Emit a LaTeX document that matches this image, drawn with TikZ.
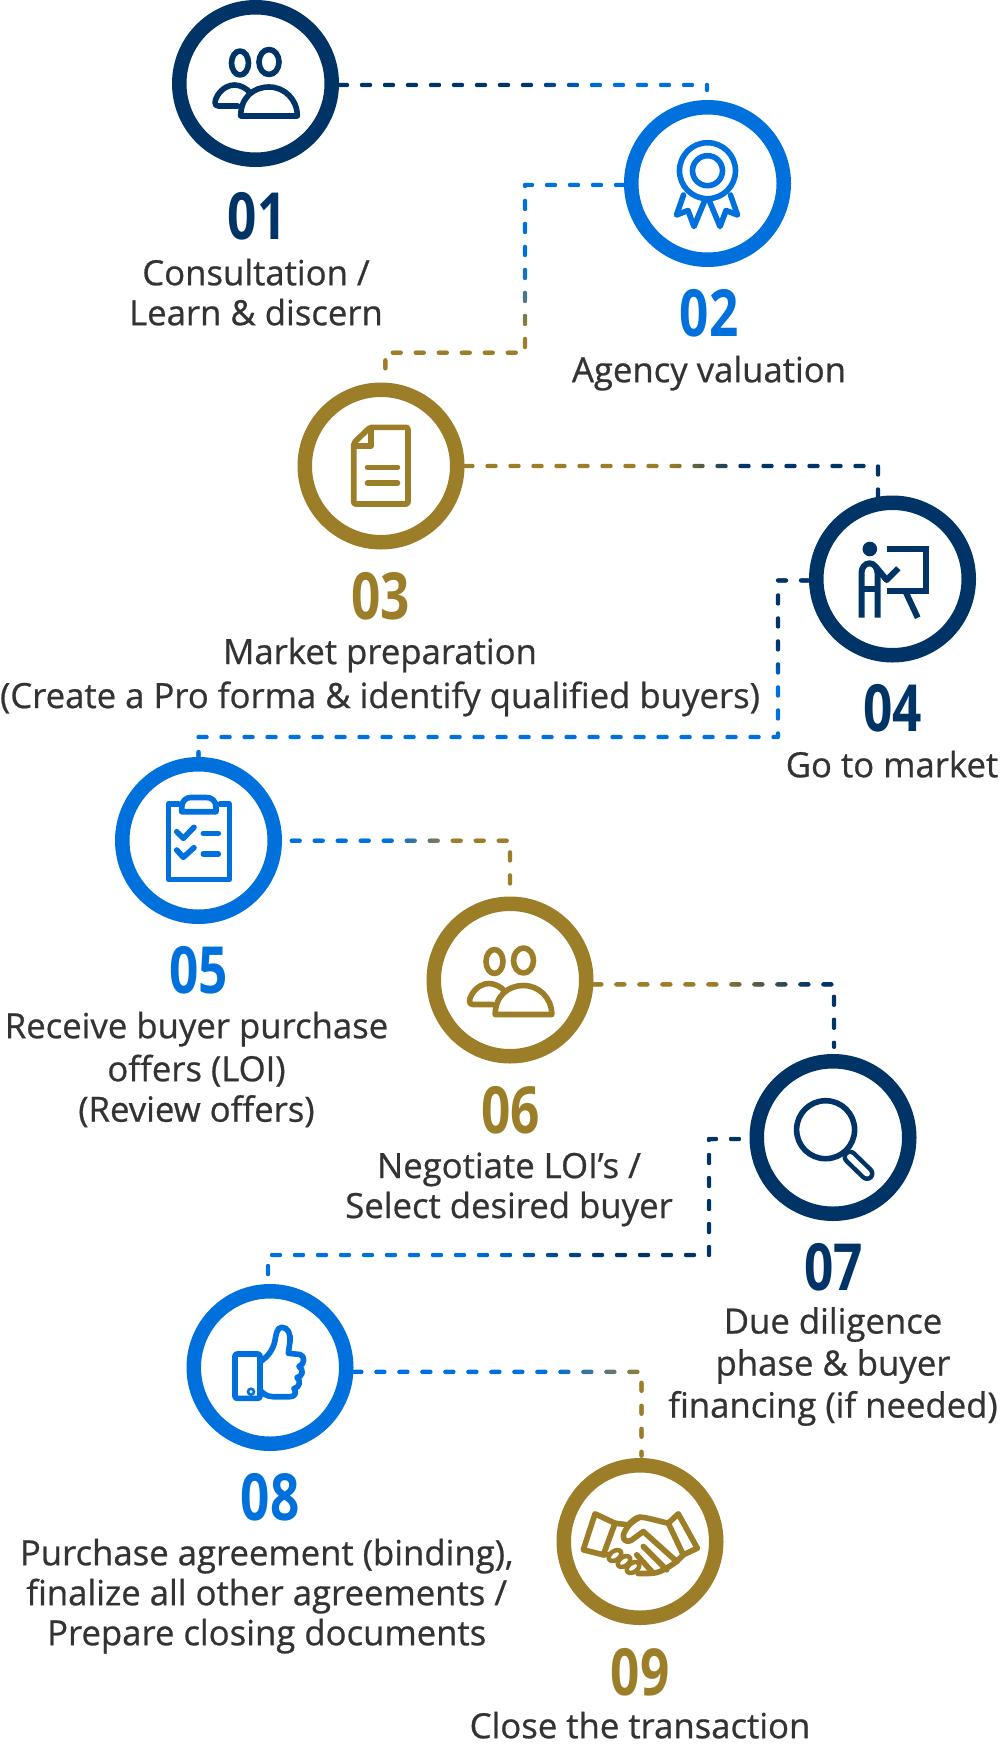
\documentclass[tikz,border=0pt]{standalone}
\usepackage{fontspec}
\setmainfont[FakeBold=0.7]{Open Sans}
\newfontfamily\numfont[FakeStretch=0.79]{Open Sans}
\usetikzlibrary{decorations.markings}
\definecolor{navy}{HTML}{003366}
\definecolor{sky}{HTML}{0071DC}
\definecolor{gold}{HTML}{9C7E28}
\definecolor{ink}{HTML}{333333}
\tikzset{
  ring/.style={circle,draw=#1,fill=white,line width=14.5pt,minimum size=152.5pt,inner sep=0pt},
  numlabel/.style={text=#1,anchor=base,inner sep=0pt,font=\numfont\bfseries\fontsize{65}{65}\selectfont},
  desc/.style={text=ink,anchor=base,inner sep=0pt,align=center,font=\fontsize{34.7}{40}\selectfont},
  icon/.style={draw=#1,line width=5.6pt,line cap=round,line join=round},
  link/.style n args={4}{decorate,decoration={markings,
    mark=between positions 0 and 1 step 1pt with {
      \pgfkeysgetvalue{/pgf/decoration/mark info/distance from start}{\linkd}
      \pgfmathtruncatemacro{\linkon}{mod(\linkd,23)<8.5 ? 1 : 0}
      \ifnum\linkon=1
        \pgfmathsetmacro{\linkp}{min(100,max(0,(\linkd/\pgfdecoratedpathlength-#3)/(#4-#3)*100))}
        \fill[color={#2!\linkp!#1}] (0pt,0pt) circle [radius=2.2pt];
      \fi
    }}}
}
\newcommand{\peopleicon}[3]{%
  \begin{scope}[shift={(#1)},yshift=#3]
    \draw[icon=#2] (-15.5,-20.5) ellipse [x radius=8.5,y radius=12];
    \draw[icon=#2] (13.5,-21.5) ellipse [x radius=10,y radius=12.5];
    \draw[icon=#2] (-14.8,32.5) .. controls (-14.8,14) and (-2,3.5) .. (13.5,3.5) .. controls (29,3.5) and (41.8,16) .. (41.8,32.5) -- cycle;
    \draw[icon=#2] (-17.5,22.5) -- (-37,22.5) .. controls (-42,22.5) and (-41,17) .. (-38,12) .. controls (-33,4) and (-26,1.5) .. (-21,1.5) .. controls (-15,1.5) and (-9,5) .. (-5.5,9);
  \end{scope}}
\begin{document}
\begin{tikzpicture}[x=1pt,y=-1pt]
\useasboundingbox (0,0) rectangle (1000,1747);
% bends and free ends
\coordinate (e2) at (707,90);
\coordinate (b23) at (525,352.7);
\coordinate (b45) at (778,737);
\coordinate (s5) at (291.7,840.7);
\coordinate (e6) at (510,887);
\coordinate (e7) at (834,1047);
\coordinate (s7) at (739,1139);
\coordinate (b78) at (709,1255);
\coordinate (e8) at (268,1280);
\coordinate (e9) at (641.5,1456);
\pgfdeclarelayer{front}\pgfsetlayers{main,front}
\begin{pgfonlayer}{front}
\node[ring=navy] (c1) at (255.5,83.5) {};
\node[ring=sky]  (c2) at (707.5,183.5) {};
\node[ring=gold] (c3) at (381,466) {};
\node[ring=navy] (c4) at (892.5,579) {};
\node[ring=sky]  (c5) at (198.5,840.5) {};
\node[ring=gold] (c6) at (510,980) {};
\node[ring=navy] (c7) at (833,1137.5) {};
\node[ring=sky]  (c8) at (270,1367.5) {};
\node[ring=gold] (c9) at (640,1541.5) {};
\end{pgfonlayer}
% connectors
\path[link={navy}{sky}{.5}{.72}] (c1.-1) -| (e2);
\path[link={sky}{gold}{.415}{.565}] (c2.181) -| (b23) -| (c3.87);
\path[link={gold}{navy}{.465}{.62}] (c3.east) -| (c4.100);
\path[link={navy}{sky}{.12}{.175}] (c4.181) -| (b45) -| (c5.north);
\path[link={sky}{gold}{.39}{.61}] (s5) -| (e6);
\path[link={gold}{navy}{.4}{.73}] (c6.-3) -| (e7);
\path[link={navy}{sky}{.4}{.64}] (s7) -| (b78) -| (e8);
\path[link={sky}{gold}{.545}{.79}] (c8.-3) -| (e9);
% icons
\begin{pgfonlayer}{front}
\peopleicon{c1.center}{navy}{0pt}
% 02 rosette
\begin{scope}[shift={(c2.center)}]
  \draw[icon=sky] (0,-12.8) circle [radius=28];
  \draw[icon=sky] (0,-12.8) circle [radius=15];
  \draw[icon=sky] (-24,11.5) -- (-31,31.5) -- (-19.5,27) -- (-13.5,43) -- (-2.5,16.5);
  \draw[icon=sky] (23,11.5) -- (30,31.5) -- (18.5,27) -- (12.5,43) -- (1.5,16.5);
\end{scope}
% 03 document
\begin{scope}[shift={(c3.center)}]
  \draw[icon=gold,rounded corners=2pt] (-11,-38.7) -- (27,-38.7) -- (27,38) -- (-27.3,38) -- (-27.3,-23) -- cycle;
  \draw[icon=gold] (-10.2,-38) -- (-10.2,-20) -- (-27.3,-20);
  \draw[icon=gold] (-13.5,1.3) -- (16.5,1.3);
  \draw[icon=gold] (-13.5,17) -- (16.5,17);
\end{scope}
% 04 presenter
\begin{scope}[shift={(c4.center)},xshift=2.5pt]
  \fill[navy] (-25.2,-30) circle [radius=7.3];
  \draw[icon=navy,line width=6pt,line cap=butt,line join=miter] (-8.3,-30) -- (31,-30) -- (31,11.5) -- (-8.3,11.5);
  \draw[icon=navy,line width=6pt,line cap=butt] (10.7,13) -- (22.7,38.7);
  \draw[icon=navy,line width=6pt,line cap=butt] (-33.5,38.7) -- (-33.5,-6) arc [start angle=180,end angle=0,x radius=8,y radius=-9.7] -- (-17.5,38.7);
  \draw[icon=navy,line width=6pt,line cap=butt] (-33.5,10) -- (-17.5,10);
  \draw[icon=navy,line width=6pt,line cap=butt] (-19,-12) -- (-8.3,1) -- (3.3,-10.7);
\end{scope}
% 05 clipboard
\begin{scope}[shift={(c5.center)}]
  \draw[icon=sky] (-20.2,-36.5) -- (-30.2,-36.5) -- (-30.2,38.8) -- (30.8,38.8) -- (30.8,-36.5) -- (21.5,-36.5);
  \draw[icon=sky] (-16.8,-28.8) -- (-16.8,-33) .. controls (-16.8,-40) and (-12,-43) .. (-8,-43) -- (8,-43) .. controls (13,-43) and (17.5,-40) .. (17.5,-33) -- (17.5,-28.8) -- cycle;
  \draw[icon=sky] (-21.8,-8.8) -- (-15.2,-2.2) -- (-4.5,-13.2);
  \draw[icon=sky] (-21.8,9.5) -- (-15.2,16.8) -- (-4.5,7.2);
  \draw[icon=sky] (4.8,-7.2) -- (19.8,-7.2);
  \draw[icon=sky] (4.8,13.5) -- (19.8,13.5);
\end{scope}
\peopleicon{c6.center}{gold}{-2pt}
% 07 magnifier
\begin{scope}[shift={(c7.center)}]
  \draw[icon=navy] (-7.4,-7.8) circle [radius=29];
  \draw[navy,line width=15pt,line cap=round] (17,19.5) -- (34,36);
  \draw[white,line width=6pt,line cap=round] (17,19.5) -- (34,36);
\end{scope}
% 08 thumb up
\begin{scope}[shift={(c8.center)}]
  \draw[icon=sky,rounded corners=2pt] (-35,-13.5) rectangle (-10,30.8);
  \draw[sky,line width=2.5pt] (-19,24.2) circle [radius=3];
  \draw[icon=sky] (-10,-5.8) .. controls (-3,-10) and (3,-17) .. (5,-27) .. controls (6,-33) and (7,-40) .. (11.7,-40.2) .. controls (18,-40.5) and (21,-33) .. (20,-26) -- (18.3,-14.2) -- (30,-13) .. controls (35,-12) and (35,-3) .. (29,-1) .. controls (34,2) and (33,9) .. (27,10) .. controls (31,13) and (30,20) .. (24,21) .. controls (27,25) and (25,29.2) .. (20,29.2) -- (3,29.2) .. controls (-3,29.2) and (-7,26) .. (-10,22.5);
\end{scope}
% 09 handshake
\begin{scope}[shift={(c9.center)}]
  \draw[icon=gold] (-45,-27.7) -- (-25,-18.3) -- (-36.7,13.3) -- (-56.7,8.3) -- cycle;
  \draw[icon=gold] (38.3,-27.7) -- (57.3,6.7) -- (43.3,13.3) -- (28.3,-18.3) -- cycle;
  \draw[icon=gold] (-25,-18.3) -- (-12,-16.7) .. controls (-7,-21) and (-4,-24.3) .. (0,-24.3) .. controls (6,-24.3) and (16,-21) .. (28.3,-18.3);
  \draw[icon=gold] (0,-24.3) .. controls (-9,-20) and (-15,-13) .. (-16.7,-6) .. controls (-17,-1) and (-13,1) .. (-9,-1) -- (3.3,-10) -- (36.7,20) -- (43.3,13.3);
  \draw[icon=gold] (36.7,20) .. controls (31,24) and (28,26) .. (24,28) .. controls (19,31) and (14,32) .. (8,32) -- (-2,32);
  \draw[icon=gold] (-36.7,13.3) -- (-31,13);
  \draw[icon=gold] (3.3,5) -- (26.7,28.3);
  \draw[icon=gold] (-3.3,13.3) -- (13.3,31.7);
  \draw[icon=gold,line width=4.5pt,rotate around={35:(-25,14)}] (-25,14) ellipse [x radius=7,y radius=4.5];
  \draw[icon=gold,line width=4.5pt,rotate around={35:(-16,20)}] (-16,20) ellipse [x radius=7,y radius=4.5];
  \draw[icon=gold,line width=4.5pt,rotate around={35:(-7,26)}] (-7,26) ellipse [x radius=7,y radius=4.5];
\end{scope}
\end{pgfonlayer}
% numbers
\node[numlabel=navy] (n1) at (257,239) {01};
\node[numlabel=sky]  (n2) at (709,336) {02};
\node[numlabel=gold] (n3) at (380.5,619) {03};
\node[numlabel=navy] (n4) at (892.5,731) {04};
\node[numlabel=sky]  (n5) at (198.5,993) {05};
\node[numlabel=gold] (n6) at (510.5,1133) {06};
\node[numlabel=navy] (n7) at (833.5,1290) {07};
\node[numlabel=sky]  (n8) at (270,1520) {08};
\node[numlabel=gold] (n9) at (640,1695) {09};
% descriptions (anchored at the baseline of the last line)
\node[desc] (t1) at (256,325.2) {Consultation /\\Learn \& discern};
\node[desc] (t2) at (709,382.2) {Agency valuation};
\node[desc] (t3) at (380,708) {Market preparation\\[4pt](Create a Pro forma \& identify qualified buyers)};
\node[desc] (t4) at (892,777.2) {Go to market};
\node[desc] (t5) at (196.5,1121.7) {Receive buyer purchase\\[3pt]offers (LOI)\\[0.5pt](Review offers)};
\node[desc] (t6) at (509,1218) {Negotiate LOI’s /\\Select desired buyer};
\node[desc] (t7) at (833,1417.5) {Due diligence\\[2pt]phase \& buyer\\[2pt]financing (if needed)};
\node[desc] (t8) at (266.7,1645.2) {Purchase agreement (binding),\\finalize all other agreements /\\Prepare closing documents};
\node[desc] (t9) at (640,1738.2) {Close the transaction};
\end{tikzpicture}
\end{document}
